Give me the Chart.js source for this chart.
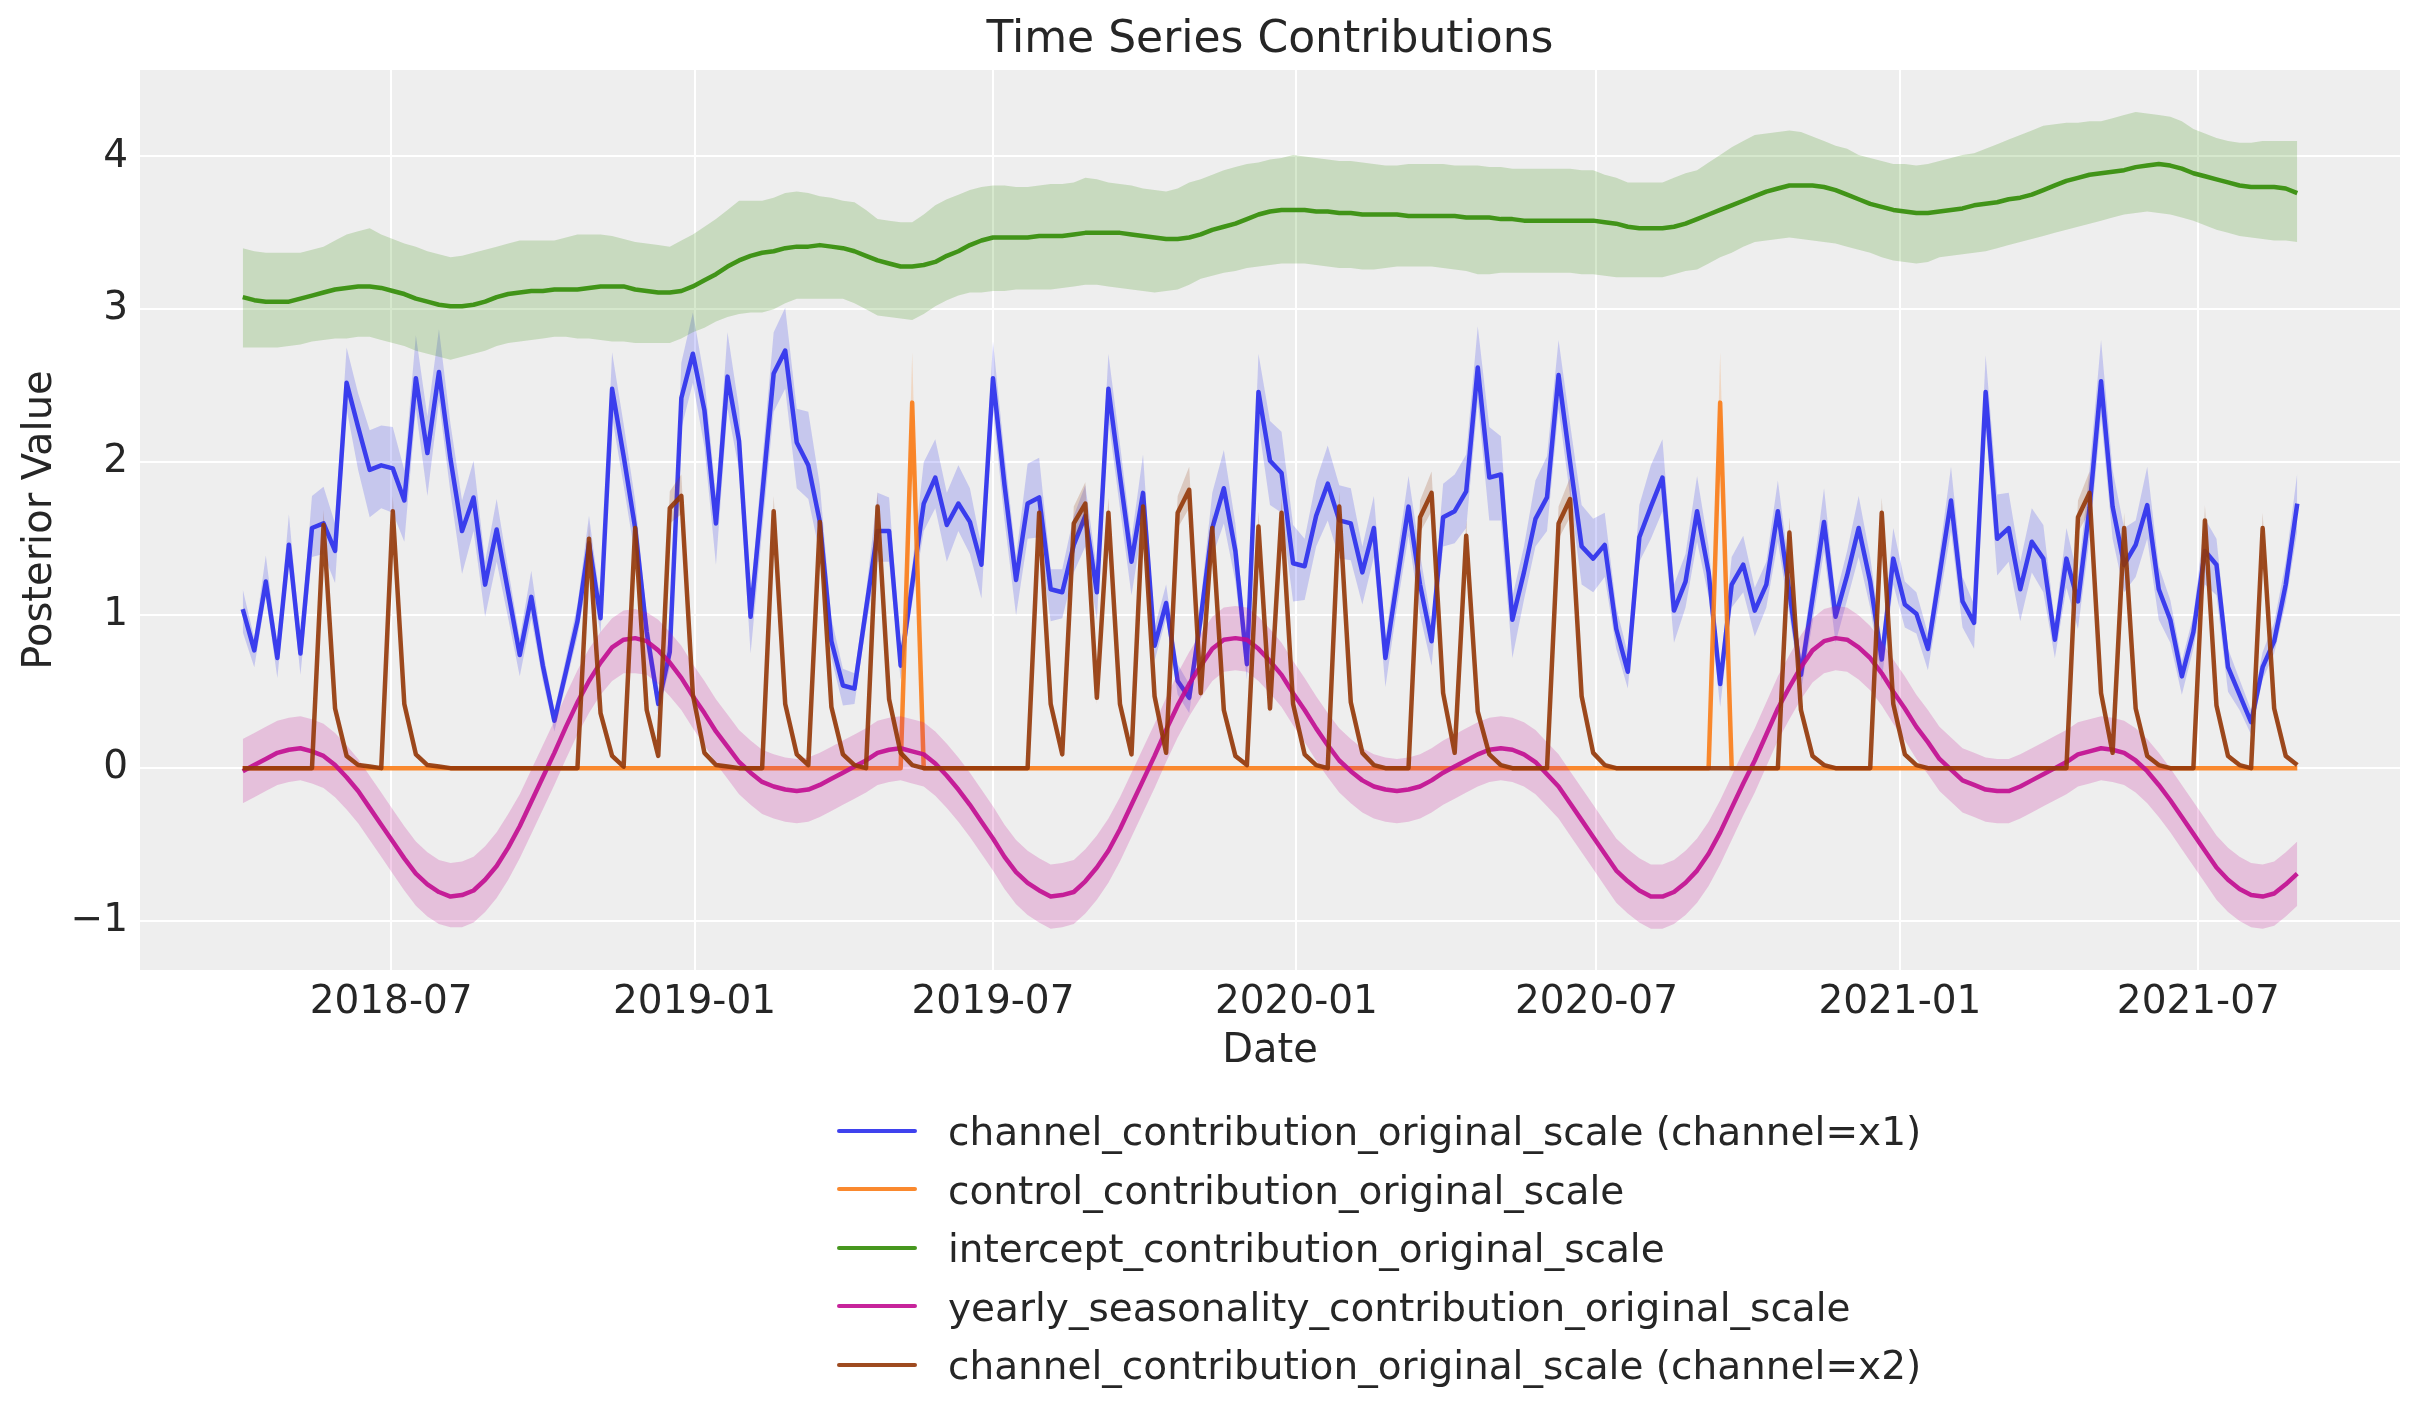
<!DOCTYPE html>
<html>
<head>
<meta charset="utf-8">
<title>Time Series Contributions</title>
<script src="https://cdn.jsdelivr.net/npm/chart.js@4.4.1/dist/chart.umd.min.js"></script>
<style>
  html, body { margin: 0; padding: 0; background: #ffffff; }
  #wrap { position: relative; width: 2423px; height: 1423px; }
  #chart { position: absolute; left: 0; top: 0; }
  #legend { position: absolute; left: 837px; top: 1103px; font-family: 'DejaVu Sans', sans-serif; font-size: 39px; color: #262626; }
  .row { position: relative; height: 58.5px; line-height: 58.5px; white-space: nowrap; }
  .swatch { position: absolute; left: 0; top: 25.5px; width: 80px; height: 4px; border-radius: 2px; }
  .label { position: absolute; left: 111px; top: 0; }
</style>
</head>
<body>
<div id="wrap">
  <canvas id="chart" width="2423" height="1423"></canvas>
  <div id="legend"></div>
</div>
<script>
// weekly dates, W-MON
var firstWeek = '2018-04-02';
var weekCount = 179;

var xTickDates = ['2018-07-01', '2019-01-01', '2019-07-01', '2020-01-01', '2020-07-01', '2021-01-01', '2021-07-01'];
var xTickLabels = ['2018-07', '2019-01', '2019-07', '2020-01', '2020-07', '2021-01', '2021-07'];

var seriesNames = [
    'channel_contribution_original_scale (channel=x1)',
    'control_contribution_original_scale',
    'intercept_contribution_original_scale',
    'yearly_seasonality_contribution_original_scale',
    'channel_contribution_original_scale (channel=x2)'
];

// channel x1
var channelX1 = [
    1.04, 0.77, 1.22, 0.72, 1.46, 0.75, 1.57, 1.60, 1.42, 2.52,
    2.23, 1.95, 1.98, 1.96, 1.75, 2.55, 2.06, 2.59, 2.02, 1.55,
    1.77, 1.20, 1.56, 1.15, 0.74, 1.12, 0.67, 0.31, 0.63, 0.96,
    1.47, 0.98, 2.48, 2.04, 1.57, 0.89, 0.42, 0.76, 2.42, 2.71,
    2.34, 1.60, 2.56, 2.14, 0.99, 1.78, 2.58, 2.73, 2.13, 1.98,
    1.61, 0.83, 0.54, 0.52, 1.04, 1.55, 1.55, 0.67, 1.20, 1.73,
    1.90, 1.59, 1.73, 1.61, 1.33, 2.55, 1.85, 1.23, 1.73, 1.77,
    1.17, 1.15, 1.46, 1.65, 1.15, 2.48, 1.91, 1.35, 1.80, 0.80,
    1.08, 0.57, 0.46, 0.98, 1.57, 1.83, 1.42, 0.68, 2.46, 2.01,
    1.93, 1.34, 1.32, 1.65, 1.86, 1.62, 1.60, 1.28, 1.57, 0.72,
    1.22, 1.71, 1.20, 0.83, 1.64, 1.68, 1.81, 2.62, 1.90, 1.92,
    0.97, 1.28, 1.63, 1.77, 2.57, 2.00, 1.45, 1.37, 1.46, 0.91,
    0.63, 1.51, 1.71, 1.90, 1.03, 1.22, 1.68, 1.28, 0.55, 1.20,
    1.33, 1.03, 1.20, 1.68, 1.15, 0.61, 1.11, 1.61, 0.99, 1.26,
    1.57, 1.22, 0.71, 1.37, 1.07, 1.01, 0.78, 1.26, 1.75, 1.09,
    0.95, 2.46, 1.50, 1.57, 1.17, 1.48, 1.37, 0.84, 1.37, 1.09,
    1.70, 2.53, 1.71, 1.33, 1.46, 1.72, 1.17, 0.97, 0.60, 0.89,
    1.42, 1.33, 0.66, 0.48, 0.30, 0.66, 0.83, 1.20, 1.73
];
var channelX1Hi = [
    1.17, 0.85, 1.39, 0.80, 1.66, 0.85, 1.78, 1.84, 1.60, 2.75,
    2.45, 2.21, 2.24, 2.23, 1.95, 2.83, 2.30, 2.87, 2.25, 1.75,
    2.01, 1.35, 1.76, 1.30, 0.85, 1.29, 0.77, 0.38, 0.72, 1.07,
    1.65, 1.08, 2.72, 2.25, 1.75, 1.00, 0.52, 0.86, 2.65, 2.98,
    2.55, 1.78, 2.85, 2.35, 1.12, 2.00, 2.85, 3.01, 2.35, 2.33,
    1.85, 0.98, 0.65, 0.62, 1.15, 1.80, 1.77, 0.78, 1.32, 2.00,
    2.15, 1.80, 1.98, 1.83, 1.45, 2.79, 2.05, 1.38, 1.99, 2.03,
    1.30, 1.30, 1.65, 1.85, 1.30, 2.71, 2.12, 1.50, 2.05, 0.92,
    1.20, 0.68, 0.55, 1.10, 1.80, 2.08, 1.60, 0.78, 2.71, 2.27,
    2.20, 1.59, 1.50, 1.88, 2.11, 1.85, 1.83, 1.45, 1.78, 0.85,
    1.38, 1.91, 1.40, 0.95, 1.86, 1.92, 2.05, 2.89, 2.23, 2.17,
    1.12, 1.45, 1.88, 2.04, 2.80, 2.25, 1.72, 1.63, 1.67, 1.05,
    0.75, 1.72, 1.98, 2.15, 1.20, 1.40, 1.91, 1.45, 0.65, 1.38,
    1.52, 1.18, 1.35, 1.88, 1.30, 0.72, 1.25, 1.83, 1.12, 1.42,
    1.78, 1.38, 0.83, 1.57, 1.22, 1.15, 0.88, 1.40, 1.97, 1.25,
    1.07, 2.70, 1.79, 1.80, 1.35, 1.70, 1.59, 0.95, 1.57, 1.25,
    1.95, 2.80, 1.95, 1.57, 1.62, 1.97, 1.32, 1.10, 0.70, 1.00,
    1.63, 1.50, 0.78, 0.58, 0.38, 0.76, 0.95, 1.35, 1.93
];
var channelX1Lo = [
    0.89, 0.66, 1.12, 0.59, 1.35, 0.61, 1.38, 1.40, 1.21, 2.35,
    1.95, 1.64, 1.70, 1.67, 1.48, 2.35, 1.78, 2.40, 1.80, 1.27,
    1.55, 0.99, 1.35, 0.98, 0.60, 0.98, 0.57, 0.24, 0.55, 0.86,
    1.30, 0.88, 2.30, 1.85, 1.38, 0.78, 0.35, 0.66, 2.22, 2.52,
    2.10, 1.33, 2.35, 1.95, 0.75, 1.55, 2.33, 2.48, 1.83, 1.76,
    1.40, 0.72, 0.41, 0.42, 0.93, 1.35, 1.35, 0.58, 1.08, 1.55,
    1.70, 1.35, 1.55, 1.40, 1.11, 2.35, 1.62, 1.00, 1.50, 1.51,
    0.96, 0.98, 1.28, 1.45, 0.97, 2.28, 1.70, 1.13, 1.60, 0.70,
    0.98, 0.48, 0.36, 0.87, 1.38, 1.60, 1.22, 0.58, 2.25, 1.72,
    1.67, 1.09, 1.10, 1.45, 1.62, 1.37, 1.36, 1.07, 1.38, 0.53,
    1.05, 1.52, 1.00, 0.67, 1.45, 1.47, 1.57, 2.40, 1.62, 1.62,
    0.72, 1.10, 1.45, 1.55, 2.35, 1.78, 1.20, 1.15, 1.25, 0.78,
    0.52, 1.35, 1.50, 1.68, 0.82, 1.05, 1.48, 1.12, 0.40, 1.05,
    1.15, 0.86, 1.05, 1.48, 1.00, 0.50, 0.95, 1.42, 0.82, 1.10,
    1.38, 1.05, 0.57, 1.20, 0.92, 0.88, 0.64, 1.10, 1.55, 0.92,
    0.78, 2.25, 1.26, 1.35, 0.96, 1.28, 1.15, 0.72, 1.18, 0.91,
    1.50, 2.30, 1.50, 1.15, 1.25, 1.50, 0.97, 0.82, 0.48, 0.78,
    1.20, 1.13, 0.50, 0.38, 0.22, 0.58, 0.75, 1.08, 1.55
];

// control
var control = [
    0, 0, 0, 0, 0, 0, 0, 0, 0, 0,
    0, 0, 0, 0, 0, 0, 0, 0, 0, 0,
    0, 0, 0, 0, 0, 0, 0, 0, 0, 0,
    0, 0, 0, 0, 0, 0, 0, 0, 0, 0,
    0, 0, 0, 0, 0, 0, 0, 0, 0, 0,
    0, 0, 0, 0, 0, 0, 0, 0, 2.39, 0,
    0, 0, 0, 0, 0, 0, 0, 0, 0, 0,
    0, 0, 0, 0, 0, 0, 0, 0, 0, 0,
    0, 0, 0, 0, 0, 0, 0, 0, 0, 0,
    0, 0, 0, 0, 0, 0, 0, 0, 0, 0,
    0, 0, 0, 0, 0, 0, 0, 0, 0, 0,
    0, 0, 0, 0, 0, 0, 0, 0, 0, 0,
    0, 0, 0, 0, 0, 0, 0, 0, 2.39, 0,
    0, 0, 0, 0, 0, 0, 0, 0, 0, 0,
    0, 0, 0, 0, 0, 0, 0, 0, 0, 0,
    0, 0, 0, 0, 0, 0, 0, 0, 0, 0,
    0, 0, 0, 0, 0, 0, 0, 0, 0, 0,
    0, 0, 0, 0, 0, 0, 0, 0, 0
];
var controlHi = [
    0, 0, 0, 0, 0, 0, 0, 0, 0, 0,
    0, 0, 0, 0, 0, 0, 0, 0, 0, 0,
    0, 0, 0, 0, 0, 0, 0, 0, 0, 0,
    0, 0, 0, 0, 0, 0, 0, 0, 0, 0,
    0, 0, 0, 0, 0, 0, 0, 0, 0, 0,
    0, 0, 0, 0, 0, 0, 0, 0, 2.72, 0,
    0, 0, 0, 0, 0, 0, 0, 0, 0, 0,
    0, 0, 0, 0, 0, 0, 0, 0, 0, 0,
    0, 0, 0, 0, 0, 0, 0, 0, 0, 0,
    0, 0, 0, 0, 0, 0, 0, 0, 0, 0,
    0, 0, 0, 0, 0, 0, 0, 0, 0, 0,
    0, 0, 0, 0, 0, 0, 0, 0, 0, 0,
    0, 0, 0, 0, 0, 0, 0, 0, 2.72, 0,
    0, 0, 0, 0, 0, 0, 0, 0, 0, 0,
    0, 0, 0, 0, 0, 0, 0, 0, 0, 0,
    0, 0, 0, 0, 0, 0, 0, 0, 0, 0,
    0, 0, 0, 0, 0, 0, 0, 0, 0, 0,
    0, 0, 0, 0, 0, 0, 0, 0, 0
];
var controlLo = [
    0, 0, 0, 0, 0, 0, 0, 0, 0, 0,
    0, 0, 0, 0, 0, 0, 0, 0, 0, 0,
    0, 0, 0, 0, 0, 0, 0, 0, 0, 0,
    0, 0, 0, 0, 0, 0, 0, 0, 0, 0,
    0, 0, 0, 0, 0, 0, 0, 0, 0, 0,
    0, 0, 0, 0, 0, 0, 0, 0, 2.05, 0,
    0, 0, 0, 0, 0, 0, 0, 0, 0, 0,
    0, 0, 0, 0, 0, 0, 0, 0, 0, 0,
    0, 0, 0, 0, 0, 0, 0, 0, 0, 0,
    0, 0, 0, 0, 0, 0, 0, 0, 0, 0,
    0, 0, 0, 0, 0, 0, 0, 0, 0, 0,
    0, 0, 0, 0, 0, 0, 0, 0, 0, 0,
    0, 0, 0, 0, 0, 0, 0, 0, 2.05, 0,
    0, 0, 0, 0, 0, 0, 0, 0, 0, 0,
    0, 0, 0, 0, 0, 0, 0, 0, 0, 0,
    0, 0, 0, 0, 0, 0, 0, 0, 0, 0,
    0, 0, 0, 0, 0, 0, 0, 0, 0, 0,
    0, 0, 0, 0, 0, 0, 0, 0, 0
];

// intercept
var intercept = [
    3.08, 3.06, 3.05, 3.05, 3.05, 3.07, 3.09, 3.11, 3.13, 3.14,
    3.15, 3.15, 3.14, 3.12, 3.10, 3.07, 3.05, 3.03, 3.02, 3.02,
    3.03, 3.05, 3.08, 3.10, 3.11, 3.12, 3.12, 3.13, 3.13, 3.13,
    3.14, 3.15, 3.15, 3.15, 3.13, 3.12, 3.11, 3.11, 3.12, 3.15,
    3.19, 3.23, 3.28, 3.32, 3.35, 3.37, 3.38, 3.40, 3.41, 3.41,
    3.42, 3.41, 3.40, 3.38, 3.35, 3.32, 3.30, 3.28, 3.28, 3.29,
    3.31, 3.35, 3.38, 3.42, 3.45, 3.47, 3.47, 3.47, 3.47, 3.48,
    3.48, 3.48, 3.49, 3.50, 3.50, 3.50, 3.50, 3.49, 3.48, 3.47,
    3.46, 3.46, 3.47, 3.49, 3.52, 3.54, 3.56, 3.59, 3.62, 3.64,
    3.65, 3.65, 3.65, 3.64, 3.64, 3.63, 3.63, 3.62, 3.62, 3.62,
    3.62, 3.61, 3.61, 3.61, 3.61, 3.61, 3.60, 3.60, 3.60, 3.59,
    3.59, 3.58, 3.58, 3.58, 3.58, 3.58, 3.58, 3.58, 3.57, 3.56,
    3.54, 3.53, 3.53, 3.53, 3.54, 3.56, 3.59, 3.62, 3.65, 3.68,
    3.71, 3.74, 3.77, 3.79, 3.81, 3.81, 3.81, 3.80, 3.78, 3.75,
    3.72, 3.69, 3.67, 3.65, 3.64, 3.63, 3.63, 3.64, 3.65, 3.66,
    3.68, 3.69, 3.70, 3.72, 3.73, 3.75, 3.78, 3.81, 3.84, 3.86,
    3.88, 3.89, 3.90, 3.91, 3.93, 3.94, 3.95, 3.94, 3.92, 3.89,
    3.87, 3.85, 3.83, 3.81, 3.80, 3.80, 3.80, 3.79, 3.76
];
var interceptHi = [
    3.40, 3.38, 3.37, 3.37, 3.37, 3.37, 3.39, 3.41, 3.45, 3.49,
    3.51, 3.53, 3.49, 3.46, 3.43, 3.41, 3.38, 3.36, 3.34, 3.35,
    3.37, 3.39, 3.41, 3.43, 3.45, 3.45, 3.45, 3.45, 3.47, 3.49,
    3.49, 3.49, 3.48, 3.46, 3.44, 3.43, 3.42, 3.41, 3.45, 3.49,
    3.54, 3.59, 3.65, 3.71, 3.71, 3.71, 3.73, 3.76, 3.77, 3.76,
    3.74, 3.73, 3.71, 3.70, 3.65, 3.59, 3.58, 3.57, 3.57, 3.62,
    3.68, 3.72, 3.75, 3.78, 3.80, 3.81, 3.81, 3.80, 3.80, 3.81,
    3.82, 3.82, 3.83, 3.86, 3.85, 3.83, 3.82, 3.81, 3.79, 3.78,
    3.77, 3.79, 3.83, 3.85, 3.88, 3.91, 3.93, 3.95, 3.96, 3.98,
    3.99, 4.01, 4.00, 3.99, 3.98, 3.97, 3.97, 3.96, 3.95, 3.94,
    3.94, 3.95, 3.95, 3.95, 3.95, 3.94, 3.94, 3.94, 3.93, 3.93,
    3.92, 3.92, 3.92, 3.92, 3.92, 3.92, 3.91, 3.91, 3.88, 3.86,
    3.83, 3.83, 3.83, 3.83, 3.86, 3.89, 3.91, 3.96, 4.01, 4.06,
    4.10, 4.14, 4.15, 4.16, 4.17, 4.16, 4.13, 4.10, 4.07, 4.05,
    4.01, 3.99, 3.97, 3.95, 3.95, 3.94, 3.95, 3.97, 3.99, 4.01,
    4.02, 4.05, 4.08, 4.11, 4.14, 4.17, 4.20, 4.21, 4.22, 4.22,
    4.23, 4.23, 4.25, 4.27, 4.29, 4.28, 4.27, 4.26, 4.23, 4.18,
    4.15, 4.12, 4.10, 4.09, 4.09, 4.10, 4.10, 4.10, 4.10
];
var interceptLo = [
    2.75, 2.75, 2.75, 2.75, 2.76, 2.77, 2.79, 2.80, 2.81, 2.81,
    2.82, 2.82, 2.80, 2.78, 2.76, 2.73, 2.71, 2.69, 2.67, 2.69,
    2.71, 2.73, 2.76, 2.78, 2.79, 2.80, 2.81, 2.82, 2.82, 2.81,
    2.81, 2.80, 2.79, 2.79, 2.78, 2.78, 2.78, 2.78, 2.81, 2.85,
    2.88, 2.92, 2.95, 2.97, 2.98, 2.98, 3.00, 3.04, 3.07, 3.07,
    3.07, 3.07, 3.07, 3.04, 3.00, 2.96, 2.95, 2.94, 2.93, 2.97,
    3.02, 3.06, 3.09, 3.11, 3.11, 3.12, 3.12, 3.13, 3.13, 3.13,
    3.13, 3.14, 3.15, 3.16, 3.16, 3.15, 3.14, 3.13, 3.12, 3.11,
    3.12, 3.13, 3.16, 3.20, 3.22, 3.24, 3.25, 3.27, 3.28, 3.29,
    3.30, 3.30, 3.30, 3.29, 3.28, 3.27, 3.27, 3.26, 3.26, 3.27,
    3.28, 3.28, 3.28, 3.28, 3.27, 3.26, 3.25, 3.23, 3.23, 3.24,
    3.24, 3.24, 3.24, 3.24, 3.24, 3.24, 3.23, 3.23, 3.22, 3.21,
    3.21, 3.21, 3.21, 3.21, 3.23, 3.25, 3.26, 3.30, 3.34, 3.37,
    3.41, 3.44, 3.45, 3.46, 3.47, 3.46, 3.45, 3.44, 3.43, 3.41,
    3.39, 3.37, 3.34, 3.32, 3.31, 3.30, 3.31, 3.34, 3.35, 3.36,
    3.37, 3.38, 3.40, 3.42, 3.44, 3.46, 3.48, 3.50, 3.52, 3.54,
    3.56, 3.58, 3.60, 3.62, 3.63, 3.64, 3.63, 3.62, 3.60, 3.58,
    3.55, 3.52, 3.50, 3.48, 3.47, 3.46, 3.45, 3.45, 3.44
];

// yearly seasonality
var seasonality = [
    -0.02, 0.02, 0.06, 0.10, 0.12, 0.13, 0.11, 0.08, 0.02, -0.06,
    -0.15, -0.26, -0.37, -0.48, -0.59, -0.69, -0.76, -0.81, -0.84, -0.83,
    -0.80, -0.73, -0.64, -0.52, -0.38, -0.22, -0.06, 0.10, 0.27, 0.43,
    0.57, 0.69, 0.79, 0.84, 0.85, 0.83, 0.77, 0.69, 0.59, 0.47,
    0.36, 0.24, 0.14, 0.04, -0.03, -0.09, -0.12, -0.14, -0.15, -0.14,
    -0.11, -0.07,
    -0.03, 0.01, 0.05, 0.10, 0.12, 0.13, 0.11, 0.09, 0.03, -0.05,
    -0.14, -0.24, -0.35, -0.46, -0.58, -0.68, -0.75, -0.80, -0.84, -0.83,
    -0.81, -0.74, -0.65, -0.54, -0.40, -0.24, -0.08, 0.08, 0.25, 0.41,
    0.55, 0.67, 0.78, 0.84, 0.85, 0.84, 0.78, 0.70, 0.61, 0.49,
    0.38, 0.26, 0.15, 0.05, -0.02, -0.08, -0.12, -0.14, -0.15, -0.14,
    -0.12, -0.08,
    -0.03, 0.01, 0.05, 0.09, 0.12, 0.13, 0.12, 0.09, 0.04, -0.04,
    -0.12, -0.23, -0.34, -0.45, -0.56, -0.67, -0.74, -0.80, -0.84, -0.84,
    -0.81, -0.75, -0.67, -0.56, -0.42, -0.26, -0.10, 0.05, 0.22, 0.39,
    0.53, 0.66, 0.77, 0.83, 0.85, 0.84, 0.79, 0.72, 0.62, 0.50,
    0.39, 0.27, 0.17, 0.06, -0.01, -0.08, -0.11, -0.14, -0.15, -0.15,
    -0.12, -0.08,
    -0.04, 0.00, 0.04, 0.09, 0.11, 0.13, 0.12, 0.10, 0.05, -0.02,
    -0.11, -0.21, -0.32, -0.43, -0.54, -0.65, -0.73, -0.79, -0.83, -0.84,
    -0.82, -0.76, -0.69
];
var seasonalityHi = [
    0.19, 0.23, 0.27, 0.31, 0.33, 0.34, 0.32, 0.29, 0.23, 0.15,
    0.06, -0.05, -0.16, -0.27, -0.38, -0.48, -0.55, -0.60, -0.62, -0.61,
    -0.58, -0.51, -0.42, -0.30, -0.17, -0.01, 0.15, 0.31, 0.48, 0.64,
    0.78, 0.89, 0.98, 1.03, 1.04, 1.02, 0.97, 0.89, 0.80, 0.68,
    0.57, 0.45, 0.35, 0.25, 0.18, 0.12, 0.09, 0.07, 0.06, 0.07,
    0.10, 0.14,
    0.18, 0.22, 0.26, 0.31, 0.33, 0.34, 0.32, 0.30, 0.24, 0.16,
    0.07, -0.03, -0.14, -0.25, -0.37, -0.47, -0.54, -0.59, -0.63, -0.62,
    -0.60, -0.53, -0.44, -0.33, -0.19, -0.03, 0.13, 0.29, 0.46, 0.62,
    0.76, 0.88, 0.99, 1.05, 1.06, 1.05, 0.99, 0.91, 0.82, 0.70,
    0.59, 0.47, 0.36, 0.26, 0.19, 0.13, 0.09, 0.07, 0.06, 0.07,
    0.09, 0.13,
    0.18, 0.22, 0.26, 0.30, 0.33, 0.34, 0.33, 0.30, 0.25, 0.17,
    0.09, -0.02, -0.13, -0.24, -0.35, -0.46, -0.53, -0.59, -0.63, -0.63,
    -0.60, -0.54, -0.46, -0.35, -0.21, -0.05, 0.11, 0.26, 0.43, 0.60,
    0.74, 0.87, 0.98, 1.04, 1.06, 1.05, 1.00, 0.93, 0.83, 0.71,
    0.60, 0.48, 0.38, 0.27, 0.20, 0.13, 0.10, 0.07, 0.06, 0.06,
    0.09, 0.13,
    0.17, 0.21, 0.25, 0.30, 0.32, 0.34, 0.33, 0.31, 0.26, 0.19,
    0.10, 0.00, -0.11, -0.22, -0.33, -0.44, -0.52, -0.58, -0.62, -0.63,
    -0.61, -0.55, -0.48
];
var seasonalityLo = [
    -0.23, -0.19, -0.15, -0.11, -0.09, -0.08, -0.10, -0.13, -0.19, -0.27,
    -0.36, -0.47, -0.58, -0.69, -0.80, -0.90, -0.97, -1.02, -1.04, -1.04,
    -1.01, -0.94, -0.85, -0.73, -0.59, -0.43, -0.27, -0.11, 0.06, 0.22,
    0.36, 0.48, 0.57, 0.62, 0.62, 0.61, 0.55, 0.47, 0.38, 0.26,
    0.15, 0.03, -0.07, -0.17, -0.24, -0.30, -0.33, -0.35, -0.36, -0.35,
    -0.32, -0.28,
    -0.24, -0.20, -0.16, -0.11, -0.09, -0.08, -0.10, -0.12, -0.18, -0.26,
    -0.35, -0.45, -0.56, -0.67, -0.79, -0.89, -0.96, -1.01, -1.05, -1.04,
    -1.02, -0.95, -0.86, -0.75, -0.61, -0.45, -0.29, -0.13, 0.04, 0.20,
    0.34, 0.46, 0.57, 0.63, 0.64, 0.63, 0.57, 0.49, 0.40, 0.28,
    0.17, 0.05, -0.06, -0.16, -0.23, -0.29, -0.33, -0.35, -0.36, -0.35,
    -0.33, -0.29,
    -0.24, -0.20, -0.16, -0.12, -0.09, -0.08, -0.09, -0.12, -0.17, -0.25,
    -0.33, -0.44, -0.55, -0.66, -0.77, -0.88, -0.95, -1.01, -1.05, -1.05,
    -1.02, -0.96, -0.88, -0.77, -0.63, -0.47, -0.31, -0.16, 0.01, 0.18,
    0.32, 0.45, 0.56, 0.62, 0.64, 0.63, 0.58, 0.51, 0.41, 0.29,
    0.18, 0.06, -0.04, -0.15, -0.22, -0.29, -0.32, -0.35, -0.36, -0.36,
    -0.33, -0.29,
    -0.25, -0.21, -0.17, -0.12, -0.10, -0.08, -0.09, -0.11, -0.16, -0.23,
    -0.32, -0.42, -0.53, -0.64, -0.75, -0.86, -0.94, -1.00, -1.04, -1.05,
    -1.03, -0.97, -0.90
];

// channel x2
var channelX2 = [
    0, 0, 0, 0, 0, 0, 0, 1.59, 0.39, 0.08,
    0.02, 0.01, 0, 1.68, 0.42, 0.09, 0.02, 0.01, 0, 0,
    0, 0, 0, 0, 0, 0, 0, 0, 0, 0,
    1.50, 0.36, 0.08, 0.01, 1.57, 0.38, 0.08, 1.70, 1.78, 0.48,
    0.10, 0.02, 0.01, 0, 0, 0, 1.68, 0.42, 0.09, 0.02,
    1.61, 0.40, 0.09, 0.02, 0, 1.71, 0.45, 0.10, 0.02, 0,
    0, 0, 0, 0, 0, 0, 0, 0, 0, 1.67,
    0.42, 0.09, 1.60, 1.73, 0.46, 1.67, 0.42, 0.09, 1.71, 0.47,
    0.10, 1.67, 1.82, 0.49, 1.57, 0.38, 0.08, 0.02, 1.58, 0.39,
    1.67, 0.42, 0.09, 0.02, 0, 1.71, 0.43, 0.10, 0.02, 0,
    0, 0, 1.64, 1.80, 0.49, 0.10, 1.52, 0.37, 0.09, 0.02,
    0, 0, 0, 0, 1.60, 1.76, 0.47, 0.10, 0.02, 0,
    0, 0, 0, 0, 0, 0, 0, 0, 0, 0,
    0, 0, 0, 0, 1.54, 0.38, 0.08, 0.02, 0, 0,
    0, 0, 1.67, 0.42, 0.09, 0.02, 0, 0, 0, 0,
    0, 0, 0, 0, 0, 0, 0, 0, 0, 1.64,
    1.80, 0.49, 0.10, 1.57, 0.39, 0.08, 0.02, 0, 0, 0,
    1.62, 0.41, 0.08, 0.02, 0, 1.57, 0.39, 0.08, 0.02
];
var channelX2Hi = [
    0, 0, 0, 0, 0, 0, 0, 1.69, 0.43, 0.10,
    0.03, 0.02, 0, 1.78, 0.46, 0.11, 0.03, 0.02, 0, 0,
    0, 0, 0, 0, 0, 0, 0, 0, 0, 0,
    1.60, 0.40, 0.10, 0.02, 1.67, 0.42, 0.10, 1.81, 1.92, 0.53,
    0.12, 0.03, 0.02, 0, 0, 0, 1.78, 0.46, 0.11, 0.03,
    1.71, 0.44, 0.11, 0.03, 0, 1.81, 0.49, 0.12, 0.03, 0,
    0, 0, 0, 0, 0, 0, 0, 0, 0, 1.77,
    0.46, 0.11, 1.71, 1.87, 0.50, 1.77, 0.46, 0.11, 1.81, 0.51,
    0.12, 1.78, 1.97, 0.53, 1.67, 0.42, 0.10, 0.03, 1.68, 0.43,
    1.77, 0.46, 0.11, 0.03, 0, 1.81, 0.47, 0.12, 0.03, 0,
    0, 0, 1.75, 1.94, 0.53, 0.12, 1.62, 0.41, 0.11, 0.03,
    0, 0, 0, 0, 1.71, 1.90, 0.51, 0.12, 0.03, 0,
    0, 0, 0, 0, 0, 0, 0, 0, 0, 0,
    0, 0, 0, 0, 1.64, 0.42, 0.10, 0.03, 0, 0,
    0, 0, 1.77, 0.46, 0.11, 0.03, 0, 0, 0, 0,
    0, 0, 0, 0, 0, 0, 0, 0, 0, 1.75,
    1.94, 0.53, 0.12, 1.67, 0.43, 0.10, 0.03, 0, 0, 0,
    1.72, 0.45, 0.10, 0.03, 0, 1.67, 0.43, 0.10, 0.03
];
var channelX2Lo = [
    0, 0, 0, 0, 0, 0, 0, 1.51, 0.35, 0.06,
    0.01, 0.00, 0, 1.60, 0.38, 0.07, 0.01, 0.00, 0, 0,
    0, 0, 0, 0, 0, 0, 0, 0, 0, 0,
    1.42, 0.32, 0.06, 0.00, 1.49, 0.34, 0.06, 1.60, 1.66, 0.44,
    0.08, 0.01, 0.00, 0, 0, 0, 1.60, 0.38, 0.07, 0.01,
    1.53, 0.36, 0.07, 0.01, 0, 1.63, 0.41, 0.08, 0.01, 0,
    0, 0, 0, 0, 0, 0, 0, 0, 0, 1.59,
    0.38, 0.07, 1.50, 1.61, 0.42, 1.59, 0.38, 0.07, 1.63, 0.43,
    0.08, 1.57, 1.70, 0.45, 1.49, 0.34, 0.06, 0.01, 1.50, 0.35,
    1.59, 0.38, 0.07, 0.01, 0, 1.63, 0.39, 0.08, 0.01, 0,
    0, 0, 1.54, 1.68, 0.45, 0.08, 1.44, 0.33, 0.07, 0.01,
    0, 0, 0, 0, 1.50, 1.64, 0.43, 0.08, 0.01, 0,
    0, 0, 0, 0, 0, 0, 0, 0, 0, 0,
    0, 0, 0, 0, 1.46, 0.34, 0.06, 0.01, 0, 0,
    0, 0, 1.59, 0.38, 0.07, 0.01, 0, 0, 0, 0,
    0, 0, 0, 0, 0, 0, 0, 0, 0, 1.54,
    1.68, 0.45, 0.08, 1.49, 0.35, 0.06, 0.01, 0, 0, 0,
    1.54, 0.37, 0.06, 0.01, 0, 1.49, 0.35, 0.06, 0.01
];

var DAY = 86400000;
var t0 = Date.parse(firstWeek + 'T00:00:00Z');
function dayOf(s) { return (Date.parse(s + 'T00:00:00Z') - t0) / DAY; }

var weekDays = [];
for (var i = 0; i < weekCount; i++) weekDays.push(i * 7);

function points(values) {
    return values.map(function(v, i) { return {x: weekDays[i], y: v}; });
}

var datasets = [];
function addSeries(name, values, lo, hi, color, bandColor, order) {
    datasets.push({
        label: name + ' lower', data: points(lo), borderColor: 'rgba(0,0,0,0)', borderWidth: 0,
        pointRadius: 0, fill: false, order: order + 1
    });
    datasets.push({
        label: name + ' upper', data: points(hi), borderColor: 'rgba(0,0,0,0)', borderWidth: 0,
        pointRadius: 0, fill: '-1', backgroundColor: bandColor, order: order + 1
    });
    datasets.push({
        label: name, data: points(values), borderColor: color, borderWidth: 4.5,
        borderJoinStyle: 'round', pointRadius: 0, fill: false, order: order, inLegend: true
    });
}

addSeries(seriesNames[0], channelX1, channelX1Lo, channelX1Hi, 'rgba(42,46,236,0.9)', 'rgba(42,46,236,0.2)', 9);
addSeries(seriesNames[1], control, controlLo, controlHi, 'rgba(250,124,23,0.9)', 'rgba(250,124,23,0.2)', 7);
addSeries(seriesNames[2], intercept, interceptLo, interceptHi, 'rgba(50,140,6,0.9)', 'rgba(50,140,6,0.2)', 5);
addSeries(seriesNames[3], seasonality, seasonalityLo, seasonalityHi, 'rgba(193,12,144,0.9)', 'rgba(193,12,144,0.2)', 3);
addSeries(seriesNames[4], channelX2, channelX2Lo, channelX2Hi, 'rgba(147,55,8,0.9)', 'rgba(147,55,8,0.2)', 1);

var plotBackground = {
    id: 'plotBackground',
    beforeDraw: function(chart) {
        var ctx = chart.ctx, a = chart.chartArea;
        ctx.save();
        ctx.fillStyle = '#ffffff';
        ctx.fillRect(0, 0, chart.width, chart.height);
        ctx.fillStyle = '#eeeeee';
        ctx.fillRect(a.left, a.top, a.right - a.left, a.bottom - a.top);
        ctx.restore();
    }
};

var htmlLegend = {
    id: 'htmlLegend',
    afterUpdate: function(chart) {
        var box = document.getElementById('legend');
        box.innerHTML = '';
        chart.data.datasets.forEach(function(ds) {
            if (!ds.inLegend) return;
            var row = document.createElement('div');
            row.className = 'row';
            var sw = document.createElement('span');
            sw.className = 'swatch';
            sw.style.background = ds.borderColor;
            var tx = document.createElement('span');
            tx.className = 'label';
            tx.textContent = ds.label;
            row.appendChild(sw);
            row.appendChild(tx);
            box.appendChild(row);
        });
    }
};

Chart.defaults.font.family = "'DejaVu Sans', sans-serif";
Chart.defaults.color = '#262626';

var chart = new Chart(document.getElementById('chart'), {
    type: 'line',
    data: { datasets: datasets },
    plugins: [plotBackground, htmlLegend],
    options: {
        responsive: false,
        animation: false,
        devicePixelRatio: 1,
        parsing: false,
        events: [],
        layout: { padding: { left: 0, right: 23, top: 0, bottom: 343 } },
        plugins: {
            legend: { display: false },
            tooltip: { enabled: false },
            title: {
                display: true,
                fullSize: false,
                text: 'Time Series Contributions',
                color: '#262626',
                font: { size: 44, weight: 'normal', lineHeight: 1 },
                padding: { top: 19, bottom: 7 }
            }
        },
        scales: {
            x: {
                type: 'linear',
                min: -62.3,
                max: 1308.3,
                afterFit: function(scale) { scale.height = 110; },
                afterBuildTicks: function(scale) {
                    scale.ticks = xTickDates.map(function(d) { return {value: dayOf(d)}; });
                },
                ticks: {
                    autoSkip: false,
                    maxRotation: 0,
                    padding: 9,
                    color: '#262626',
                    font: { size: 39 },
                    callback: function(value, index) { return xTickLabels[index]; }
                },
                grid: { color: '#ffffff', lineWidth: 2, drawTicks: false },
                border: { display: false },
                title: {
                    display: true,
                    text: 'Date',
                    color: '#262626',
                    font: { size: 40, lineHeight: 1.2 },
                    padding: { top: 0, bottom: 4 }
                }
            },
            y: {
                min: -1.32,
                max: 4.565,
                afterFit: function(scale) { scale.width = 140; },
                ticks: {
                    stepSize: 1,
                    includeBounds: false,
                    padding: 12,
                    color: '#262626',
                    font: { size: 39 },
                    callback: function(value) { return (value < 0 ? '\u2212' : '') + Math.abs(value); }
                },
                grid: { color: '#ffffff', lineWidth: 2, drawTicks: false },
                border: { display: false },
                title: {
                    display: true,
                    text: 'Posterior Value',
                    color: '#262626',
                    font: { size: 40, lineHeight: 1.2 },
                    padding: { top: 17, bottom: 0 }
                }
            }
        }
    }
});
</script>
</body>
</html>
